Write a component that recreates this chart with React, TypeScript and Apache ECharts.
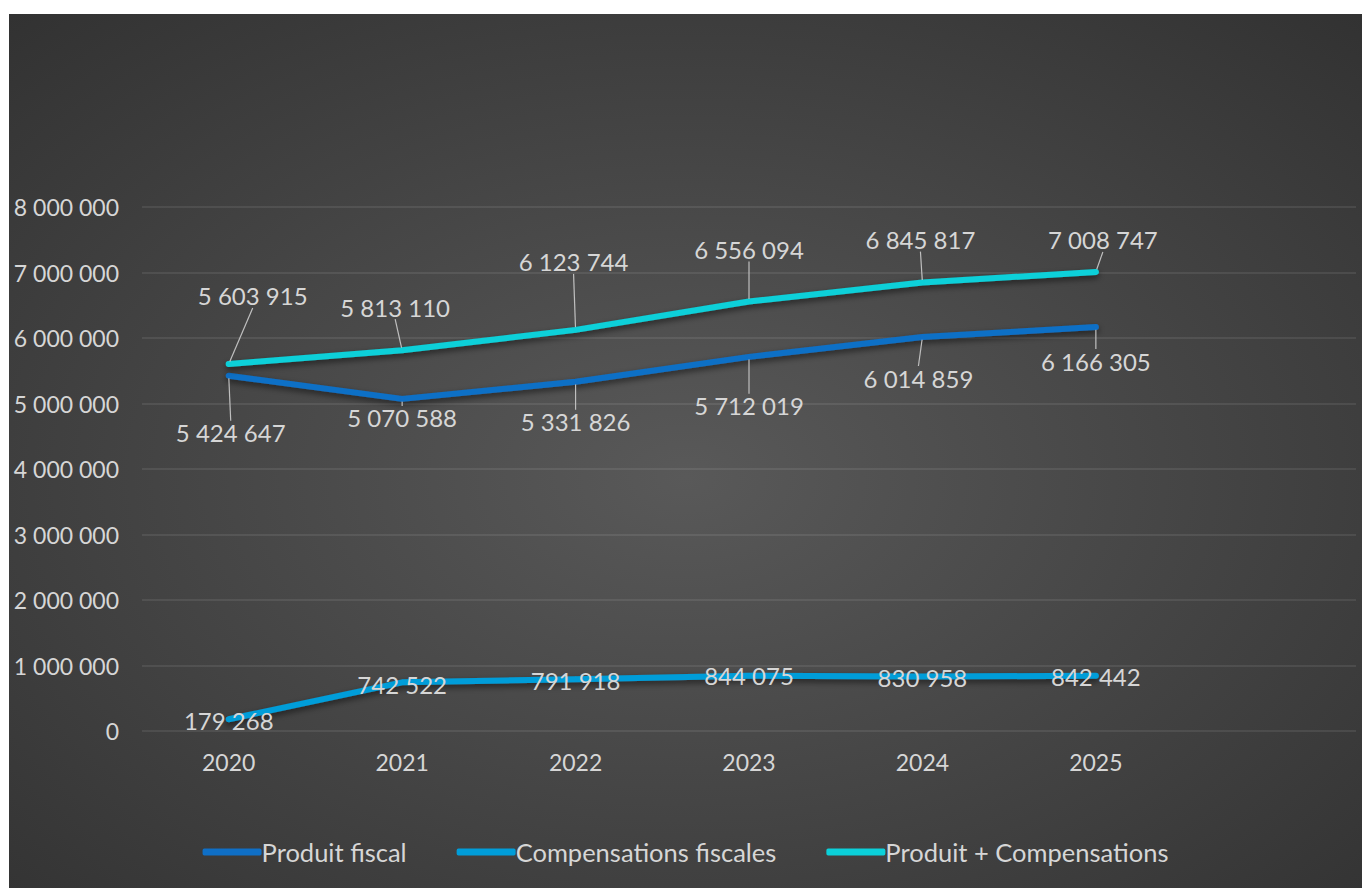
import React, { useEffect, useRef } from "react";
import * as echarts from "echarts";

const years = ["2020", "2021", "2022", "2023", "2024", "2025", ""];
const produitFiscal = [5424647, 5070588, 5331826, 5712019, 6014859, 6166305];
const compensations = [179268, 742522, 791918, 844075, 830958, 842442];
const produitPlusComp = [5603915, 5813110, 6123744, 6556094, 6845817, 7008747];
const yTicks = { min: 0, max: 8000000, interval: 1000000 };

// label offsets (layout only), relative to each point
const offFiscal = [[2, 57], [0, 19], [0, 40], [0, 49], [-4, 41], [0, 34]];
const offComp = [[0, 1], [0, 2], [0, 1], [0, 0], [0, 1], [0, 1]];
const offTotal = [[24, -68], [-7, -43], [-2, -68], [0, -52], [-2, -43], [7, -32]];

const FONT = "Lato";
const TXT = "#d6d6d6";

const fmt = (v: number) =>
  String(Math.round(v)).replace(/\B(?=(\d{3})+(?!\d))/g, " ");

function layoutFrom(offsets: number[][]) {
  return (p: any) => {
    const o = offsets[p.dataIndex] || [0, 0];
    const cx = p.rect.x + p.rect.width / 2;
    const cy = p.rect.y + p.rect.height / 2;
    return { x: cx + o[0], y: cy + o[1], align: "center", verticalAlign: "middle" };
  };
}

function makeSeries(name: string, data: number[], color: string, offsets: number[][], showLine: boolean, z: number) {
  return {
    name,
    type: "line",
    data,
    z,
    symbol: "circle",
    symbolSize: 5,
    showSymbol: true,
    itemStyle: { color },
    lineStyle: {
      width: 6,
      color,
      cap: "round",
      join: "round",
      shadowColor: "rgba(0,0,0,0.55)",
      shadowBlur: 6,
      shadowOffsetY: 3,
    },
    label: {
      show: true,
      formatter: (p: any) => fmt(p.value),
      color: TXT,
      fontFamily: FONT,
      fontSize: 24,
    },
    labelLine: {
      show: showLine,
      lineStyle: { color: "#bfbfbf", width: 1.2 },
    },
    labelLayout: layoutFrom(offsets),
  };
}

export default function App() {
  const ref = useRef<HTMLDivElement>(null);
  useEffect(() => {
    if (!ref.current) return;
    const chart = echarts.init(ref.current, null, { renderer: "svg" });
    chart.setOption({
      animation: false,
      backgroundColor: {
        type: "radial",
        x: 0.5,
        y: 0.53,
        r: 0.95,
        colorStops: [
          { offset: 0, color: "#595959" },
          { offset: 1, color: "#262626" },
        ],
      },
      grid: { left: 133, right: 6, top: 193, bottom: 157, containLabel: false },
      legend: {
        bottom: 18,
        left: "center",
        icon: "roundRect",
        itemWidth: 59,
        itemHeight: 7,
        itemGap: 50,
        textStyle: { color: TXT, fontFamily: FONT, fontSize: 25.5, padding: [0, 0, 0, -5] },
        data: ["Produit fiscal", "Compensations fiscales", "Produit + Compensations"],
      },
      xAxis: {
        type: "category",
        data: years,
        boundaryGap: true,
        axisLine: { show: false },
        axisTick: { show: false },
        axisLabel: { color: TXT, fontFamily: FONT, fontSize: 23, margin: 19 },
        splitLine: { show: false },
      },
      yAxis: {
        type: "value",
        min: yTicks.min,
        max: yTicks.max,
        interval: yTicks.interval,
        axisLine: { show: false },
        axisTick: { show: false },
        axisLabel: { color: TXT, fontFamily: FONT, fontSize: 23, margin: 23, formatter: (v: number) => fmt(v) },
        splitLine: { lineStyle: { color: "rgba(255,255,255,0.11)", width: 1.5 } },
      },
      series: [
        makeSeries("Produit fiscal", produitFiscal, "#0F6FC6", offFiscal, true, 3),
        makeSeries("Compensations fiscales", compensations, "#009DD9", offComp, false, 2),
        makeSeries("Produit + Compensations", produitPlusComp, "#0BD0D9", offTotal, true, 4),
      ],
    });
    return () => chart.dispose();
  }, []);
  return (
    <div style={{ position: "absolute", left: 0, top: 0, width: 1362, height: 888, background: "#fff" }}>
      <div ref={ref} style={{ position: "absolute", left: 9, top: 14, width: 1353, height: 874 }} />
    </div>
  );
}
